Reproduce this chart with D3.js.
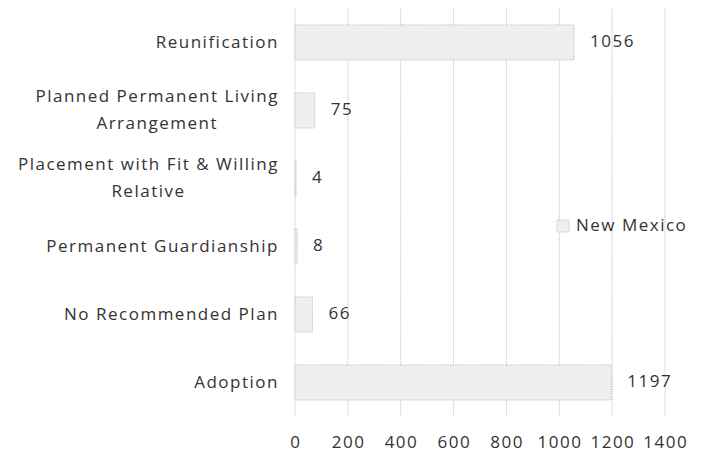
<!DOCTYPE html>
<html>
<head>
<meta charset="utf-8">
<script src="https://cdn.jsdelivr.net/npm/d3@7"></script>
<style>
  body { margin: 0; background: #fff; }
  text { font-family: "Open Sans", sans-serif; fill: #333; letter-spacing: 1.5px; }
</style>
</head>
<body>
<div id="chart"></div>
<script>
const width = 707, height = 456;
const margin = { top: 8.5, right: 42, bottom: 39.5, left: 295 };

// categories top to bottom, label lines for wrapping
const categories = ["Reunification", "Planned Permanent Living Arrangement", "Placement with Fit & Willing Relative",
  "Permanent Guardianship", "No Recommended Plan", "Adoption"];
const labelLines = [["Reunification"], ["Planned Permanent Living", "Arrangement"], ["Placement with Fit & Willing", "Relative"],
  ["Permanent Guardianship"], ["No Recommended Plan"], ["Adoption"]];
const values = [1056, 75, 4, 8, 66, 1197];
const xTicks = [0, 200, 400, 600, 800, 1000, 1200, 1400];
const seriesName = "New Mexico";

const fs = 17;
const svg = d3.select("#chart").append("svg").attr("width", width).attr("height", height);

const x = d3.scaleLinear().domain([0, 1400]).range([margin.left, margin.left + 370]);
const y = d3.scaleBand().domain(categories).range([margin.top, height - margin.bottom]).padding(0);
const barH = y.bandwidth() * 0.515;

// gridlines
svg.append("g").selectAll("line").data(xTicks).join("line")
  .attr("x1", d => x(d)).attr("x2", d => x(d))
  .attr("y1", margin.top).attr("y2", height - margin.bottom)
  .attr("stroke", "#c8c8c8").attr("stroke-dasharray", "1.5,1");

// x tick labels
svg.append("g").selectAll("text").data(xTicks).join("text")
  .attr("x", d => x(d) + 0.75).attr("y", 443)
  .attr("text-anchor", "middle").attr("dominant-baseline", "middle")
  .attr("font-size", fs).text(d => d);

// bars
svg.append("g").selectAll("rect").data(values).join("rect")
  .attr("x", x(0))
  .attr("y", (d, i) => y(categories[i]) + (y.bandwidth() - barH) / 2)
  .attr("width", d => x(d) - x(0))
  .attr("height", barH)
  .attr("fill", "#efefef").attr("stroke", "#c4c4c4").attr("stroke-dasharray", "1.5,1");

// value labels
svg.append("g").selectAll("text").data(values).join("text")
  .attr("x", d => x(d) + 16)
  .attr("y", (d, i) => y(categories[i]) + y.bandwidth() / 2)
  .attr("dominant-baseline", "middle").attr("font-size", fs).text(d => d);

// category labels, wrapped lines centred on each other, block right-aligned
const lineGap = 27;
const cat = svg.append("g").selectAll("text").data(labelLines).join("text")
  .attr("text-anchor", "middle")
  .attr("font-size", fs)
  .attr("dominant-baseline", "middle");
cat.each(function (lines, i) {
  const cy = y(categories[i]) + y.bandwidth() / 2;
  const t = d3.select(this);
  const y0 = cy - (lines.length - 1) * lineGap / 2;
  lines.forEach((l, j) => t.append("tspan").attr("y", y0 + j * lineGap).text(l));
  const spans = t.selectAll("tspan").nodes();
  const w = d3.max(spans, s => s.getComputedTextLength());
  spans.forEach(s => d3.select(s).attr("x", 279 - w / 2));
});

// legend
const lg = svg.append("g").attr("transform", "translate(557,220)");
lg.append("rect").attr("width", 12).attr("height", 12)
  .attr("fill", "#efefef").attr("stroke", "#c4c4c4").attr("stroke-dasharray", "1.5,1");
lg.append("text").attr("x", 19).attr("y", 6).attr("dominant-baseline", "middle")
  .attr("font-size", fs).text(seriesName);
</script>
</body>
</html>
